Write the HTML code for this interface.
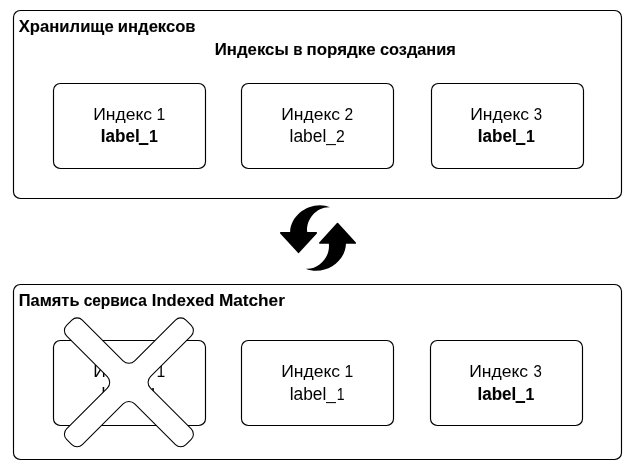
<!DOCTYPE html>
<html lang="ru">
<head>
<meta charset="utf-8">
<title>Хранилище индексов</title>
<style>
html,body{margin:0;padding:0;background:#fff;}
body{width:635px;height:472px;overflow:hidden;font-family:"Liberation Sans",sans-serif;}
svg{display:block;filter:grayscale(1);}
</style>
</head>
<body>
<svg width="635" height="472" viewBox="0 0 635 472">
<rect x="0" y="0" width="635" height="472" fill="#fff"/>
<g fill="#fff" stroke="#000" stroke-width="1.15">
<rect x="13.5" y="10.5" width="608" height="188" rx="6.8" ry="6.8"/>
<rect x="53.5" y="83.5" width="152" height="85" rx="6.8" ry="6.8"/>
<rect x="241.5" y="83.5" width="152" height="85" rx="6.8" ry="6.8"/>
<rect x="431.5" y="83.5" width="152" height="85" rx="6.8" ry="6.8"/>
<rect x="13.5" y="284.5" width="608" height="175" rx="6.8" ry="6.8"/>
<rect x="53.5" y="340.5" width="152" height="85" rx="6.8" ry="6.8"/>
<rect x="241.5" y="340.5" width="152" height="85" rx="6.8" ry="6.8"/>
<rect x="430.5" y="340.5" width="152" height="85" rx="6.8" ry="6.8"/>
</g>
<g fill="#000" font-family="'Liberation Sans', sans-serif">
<text y="32" font-size="16.0" font-weight="bold" stroke="#000" stroke-width="0.1"><tspan x="18.75" textLength="94.92" lengthAdjust="spacingAndGlyphs">Хранилище</tspan> <tspan x="117.85" textLength="77.70" lengthAdjust="spacingAndGlyphs">индексов</tspan></text>
<text y="55" font-size="16.0" font-weight="bold" stroke="#000" stroke-width="0.1"><tspan x="214.79" textLength="73.98" lengthAdjust="spacingAndGlyphs">Индексы</tspan> <tspan x="293.15" textLength="9.24" lengthAdjust="spacingAndGlyphs">в</tspan> <tspan x="306.63" textLength="68.95" lengthAdjust="spacingAndGlyphs">порядке</tspan> <tspan x="379.91" textLength="75.93" lengthAdjust="spacingAndGlyphs">создания</tspan></text>
<text y="306" font-size="16.0" font-weight="bold" stroke="#000" stroke-width="0.1"><tspan x="18.80" textLength="60.68" lengthAdjust="spacingAndGlyphs">Память</tspan> <tspan x="83.64" textLength="63.16" lengthAdjust="spacingAndGlyphs">сервиса</tspan> <tspan x="151.89" textLength="62.60" lengthAdjust="spacingAndGlyphs">Indexed</tspan> <tspan x="218.90" textLength="65.96" lengthAdjust="spacingAndGlyphs">Matcher</tspan></text>
<text y="120" font-size="16.0"><tspan x="93.16" textLength="58.91" lengthAdjust="spacingAndGlyphs">Индекс</tspan> <tspan x="156.40" textLength="8.77" lengthAdjust="spacingAndGlyphs">1</tspan></text>
<text y="142" font-size="16.0" font-weight="bold" stroke="#000" stroke-width="0.1"><tspan x="100.81" font-size="17.5" textLength="38.90" lengthAdjust="spacingAndGlyphs">label</tspan><tspan x="139.10" dy="-3" font-size="52" textLength="9.20" lengthAdjust="spacingAndGlyphs">_</tspan><tspan x="148.89" dy="3" font-size="16.5" textLength="8.86" lengthAdjust="spacingAndGlyphs">1</tspan></text>
<text y="120" font-size="16.0"><tspan x="281.16" textLength="58.91" lengthAdjust="spacingAndGlyphs">Индекс</tspan> <tspan x="344.52" textLength="8.67" lengthAdjust="spacingAndGlyphs">2</tspan></text>
<text y="142" font-size="16.0"><tspan x="289.53" font-size="17.5" textLength="36.81" lengthAdjust="spacingAndGlyphs">label</tspan><tspan x="326.23" textLength="9.60" lengthAdjust="spacingAndGlyphs">_</tspan><tspan x="335.93" font-size="16.5" textLength="8.77" lengthAdjust="spacingAndGlyphs">2</tspan></text>
<text y="120" font-size="16.0"><tspan x="470.16" textLength="58.91" lengthAdjust="spacingAndGlyphs">Индекс</tspan> <tspan x="533.73" textLength="8.33" lengthAdjust="spacingAndGlyphs">3</tspan></text>
<text y="142" font-size="16.0" font-weight="bold" stroke="#000" stroke-width="0.1"><tspan x="477.81" font-size="17.5" textLength="38.90" lengthAdjust="spacingAndGlyphs">label</tspan><tspan x="516.10" dy="-3" font-size="52" textLength="9.20" lengthAdjust="spacingAndGlyphs">_</tspan><tspan x="525.89" dy="3" font-size="16.5" textLength="8.86" lengthAdjust="spacingAndGlyphs">1</tspan></text>
<text y="377" font-size="16.0"><tspan x="93.16" textLength="58.91" lengthAdjust="spacingAndGlyphs">Индекс</tspan> <tspan x="156.40" textLength="8.77" lengthAdjust="spacingAndGlyphs">1</tspan></text>
<text y="400" font-size="16.0"><tspan x="101.52" font-size="17.5" textLength="37.02" lengthAdjust="spacingAndGlyphs">label</tspan><tspan x="138.43" textLength="9.65" lengthAdjust="spacingAndGlyphs">_</tspan><tspan x="148.96" font-size="16.5" textLength="7.94" lengthAdjust="spacingAndGlyphs">1</tspan></text>
<text y="377" font-size="16.0"><tspan x="281.16" textLength="58.91" lengthAdjust="spacingAndGlyphs">Индекс</tspan> <tspan x="344.40" textLength="8.77" lengthAdjust="spacingAndGlyphs">1</tspan></text>
<text y="400" font-size="16.0"><tspan x="289.73" font-size="17.5" textLength="36.67" lengthAdjust="spacingAndGlyphs">label</tspan><tspan x="326.30" textLength="9.56" lengthAdjust="spacingAndGlyphs">_</tspan><tspan x="336.73" font-size="16.5" textLength="7.86" lengthAdjust="spacingAndGlyphs">1</tspan></text>
<text y="377" font-size="16.0"><tspan x="469.16" textLength="58.91" lengthAdjust="spacingAndGlyphs">Индекс</tspan> <tspan x="533.43" textLength="8.33" lengthAdjust="spacingAndGlyphs">3</tspan></text>
<text y="400" font-size="16.0" font-weight="bold" stroke="#000" stroke-width="0.1"><tspan x="477.51" font-size="17.5" textLength="38.76" lengthAdjust="spacingAndGlyphs">label</tspan><tspan x="515.67" dy="-3" font-size="52" textLength="9.17" lengthAdjust="spacingAndGlyphs">_</tspan><tspan x="525.42" dy="3" font-size="16.5" textLength="8.82" lengthAdjust="spacingAndGlyphs">1</tspan></text>
</g>
<g transform="translate(318.03 237.98)" fill="#000"><path d="M-27.9 -5 L-27.9 -6.38 C-27.1 -25.2 -4.9 -38.1 12.3 -30.7 C-0.3 -31.9 -12.1 -19.6 -10.85 -6.38 L-10.85 -5 Z"/><path d="M-37.26 -5.08 L-1.76 -5.08 L-19.51 14.32 Z" stroke="#000" stroke-width="1.6" stroke-linejoin="round"/><g transform="rotate(180)"><path d="M-27.9 -5 L-27.9 -6.38 C-27.1 -25.2 -4.9 -38.1 12.3 -30.7 C-0.3 -31.9 -12.1 -19.6 -10.85 -6.38 L-10.85 -5 Z"/><path d="M-37.26 -5.08 L-1.76 -5.08 L-19.51 14.32 Z" stroke="#000" stroke-width="1.6" stroke-linejoin="round"/></g></g>
<path d="M150.47 376.55 A8.20 8.20 0 0 0 150.47 388.15 L191.23 428.91 A7.40 7.40 0 0 1 191.23 439.38 L185.93 444.68 A7.40 7.40 0 0 1 175.46 444.68 L134.70 403.92 A8.20 8.20 0 0 0 123.10 403.92 L82.34 444.68 A7.40 7.40 0 0 1 71.87 444.68 L66.57 439.38 A7.40 7.40 0 0 1 66.57 428.91 L107.33 388.15 A8.20 8.20 0 0 0 107.33 376.55 L66.57 335.79 A7.40 7.40 0 0 1 66.57 325.32 L71.87 320.02 A7.40 7.40 0 0 1 82.34 320.02 L123.10 360.78 A8.20 8.20 0 0 0 134.70 360.78 L175.46 320.02 A7.40 7.40 0 0 1 185.93 320.02 L191.23 325.32 A7.40 7.40 0 0 1 191.23 335.79 Z" fill="#fff" stroke="#000" stroke-width="1.05"/>
</svg>
</body>
</html>
